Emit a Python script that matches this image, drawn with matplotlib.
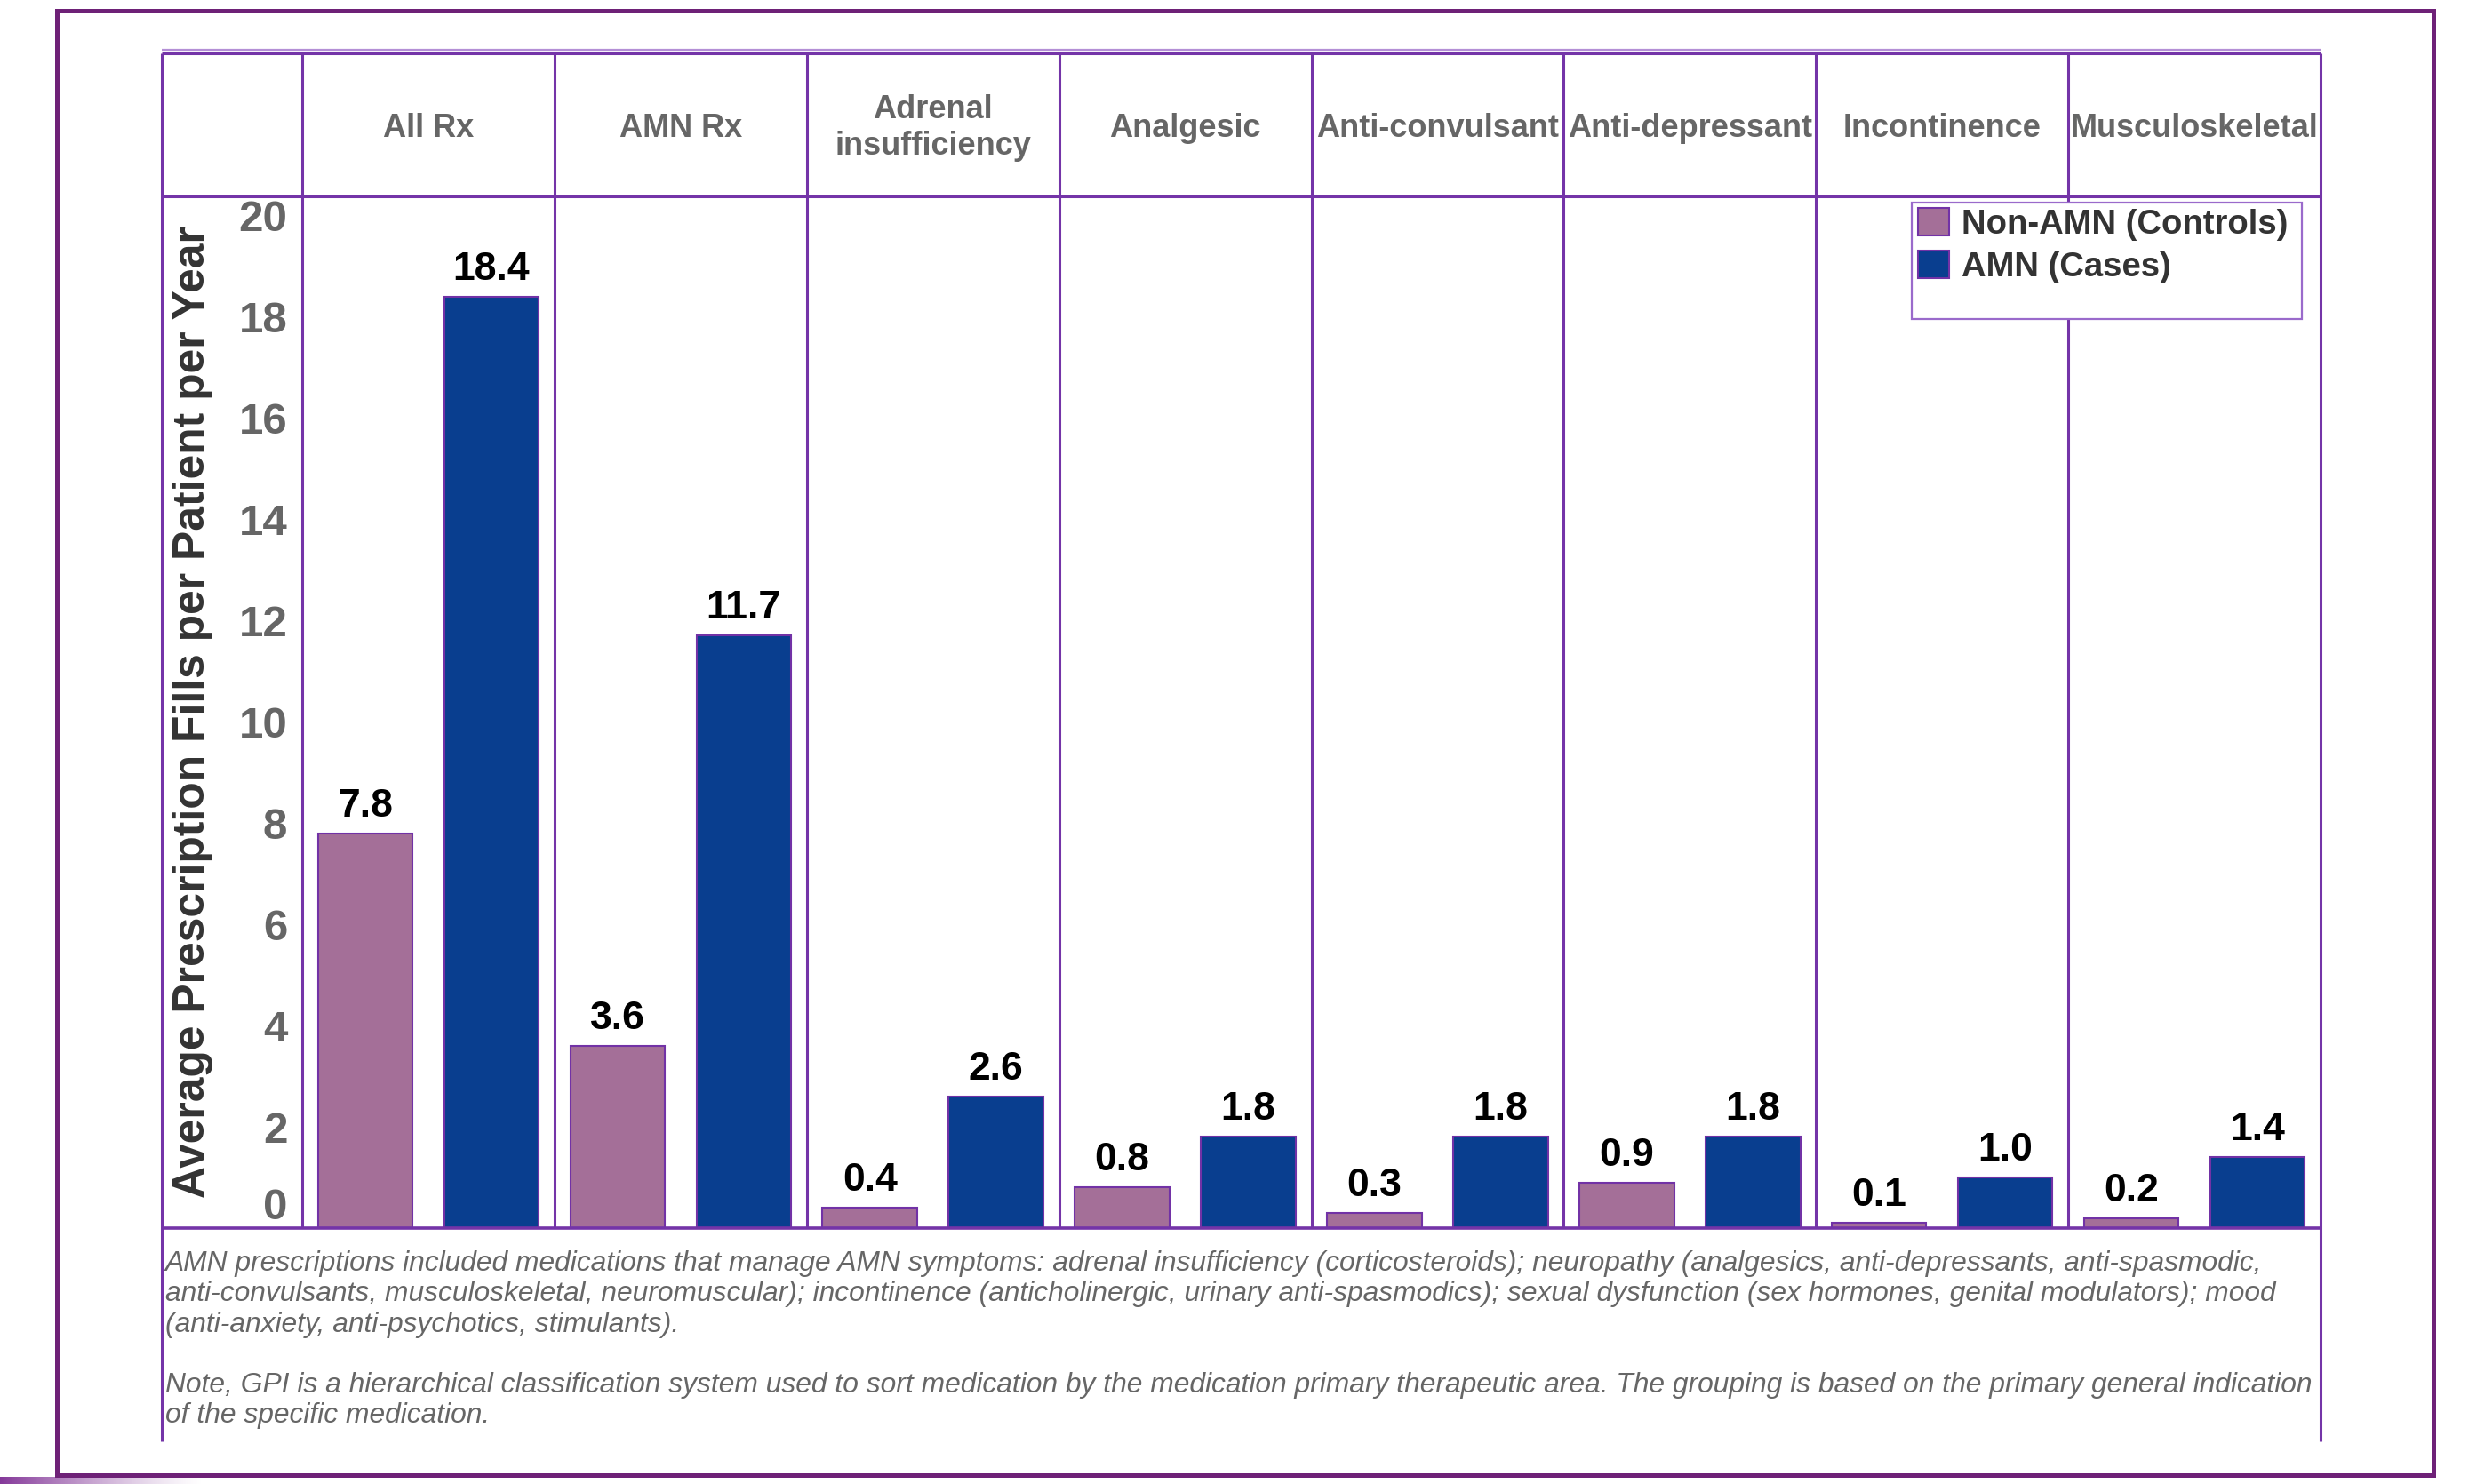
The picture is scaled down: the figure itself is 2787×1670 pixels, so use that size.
import numpy as np
import matplotlib
matplotlib.use("Agg")
import matplotlib.pyplot as plt
from matplotlib.lines import Line2D
from matplotlib.patches import Rectangle
from matplotlib.transforms import blended_transform_factory

plt.rcParams['font.family'] = ['Liberation Sans', 'DejaVu Sans']

# ---- data -------------------------------------------------------------
categories = ["All Rx", "AMN Rx", "Adrenal\ninsufficiency", "Analgesic",
              "Anti-convulsant", "Anti-depressant", "Incontinence",
              "Musculoskeletal"]
controls = [7.8, 3.6, 0.4, 0.8, 0.3, 0.9, 0.1, 0.2]
cases = [18.4, 11.7, 2.6, 1.8, 1.8, 1.8, 1.0, 1.4]
series_labels = ["Non-AMN (Controls)", "AMN (Cases)"]
y_ticks = list(range(0, 21, 2))
y_label = "Average Prescription Fills per Patient per Year"
footnote = [
    "AMN prescriptions included medications that manage AMN symptoms: adrenal insufficiency (corticosteroids); "
    "neuropathy (analgesics, anti-depressants, anti-spasmodic,",
    "anti-convulsants, musculoskeletal, neuromuscular); incontinence (anticholinergic, urinary anti-spasmodics); "
    "sexual dysfunction (sex hormones, genital modulators); mood",
    "(anti-anxiety, anti-psychotics, stimulants).",
    "",
    "Note, GPI is a hierarchical classification system used to sort medication by the medication primary "
    "therapeutic area. The grouping is based on the primary general indication",
    "of the specific medication.",
]

# ---- style ------------------------------------------------------------
C_CTRL = "#A46F98"
C_CASE = "#093E8F"
C_EDGE = "#7232A6"
C_GRID = "#7434A8"
C_FRAME = "#6E2177"

W, H, DPI = 2787, 1670, 100
fig = plt.figure(figsize=(W / DPI, H / DPI), dpi=DPI)
fig.patch.set_facecolor("white")


def fx(px):
    return px / W


def fy(py):
    return 1 - py / H


# plot area in pixel layout
PL, PR, PT, PB = 340, 2611, 221, 1382
TABLE_L, TABLE_T, NOTE_B = 182, 60, 1622

ax = fig.add_axes([fx(PL), fy(PB), fx(PR) - fx(PL), fy(PT) - fy(PB)])
ax.set_xlim(-0.5, len(categories) - 0.5)
ax.set_ylim(0, 20.38)
for s in ax.spines.values():
    s.set_visible(False)
ax.set_xticks([])
ax.set_yticks(y_ticks)
ax.set_yticklabels([str(t) for t in y_ticks])
ax.tick_params(axis="y", length=0, pad=12.0, labelsize=35.5,
               labelcolor="#666666")
for lab in ax.get_yticklabels():
    lab.set_fontweight("bold")
ax.get_yticklabels()[0].set_verticalalignment("bottom")

x = np.arange(len(categories))
bw = 0.375
bars_c = ax.bar(x - 0.25, controls, bw, color=C_CTRL, edgecolor=C_EDGE,
                linewidth=1.5, zorder=3)
bars_a = ax.bar(x + 0.25, cases, bw, color=C_CASE, edgecolor=C_EDGE,
                linewidth=1.5, zorder=3)

for xs, vals in ((x - 0.25, controls), (x + 0.25, cases)):
    for xi, v in zip(xs, vals):
        ax.annotate(f"{v:.1f}", (xi, v), xytext=(0, 13.7),
                    textcoords="offset points", ha="center", va="baseline",
                    fontsize=32, fontweight="bold", color="black", zorder=6)

# ---- table grid -------------------------------------------------------
bt = blended_transform_factory(ax.transData, ax.transAxes)
top_axes = (PB - TABLE_T) / (PB - PT)
bounds = np.arange(-0.5, len(categories) - 0.5 + 1e-9, 1.0)
ax.vlines(bounds[:-1], 0, top_axes, transform=bt, colors=C_GRID,
          linewidth=2.2, clip_on=False, zorder=1)

hdr_y = (PB - 144) / (PB - PT)
for xi, name in zip(x, categories):
    ax.text(xi, hdr_y, name, transform=bt, ha="center", va="center",
            fontsize=26, fontweight="bold", color="#666666",
            linespacing=1.25, multialignment="center", clip_on=False)


def fline(xs, ys, color=C_GRID, lw=2.2):
    fig.add_artist(Line2D([fx(v) for v in xs], [fy(v) for v in ys],
                          transform=fig.transFigure, color=color,
                          linewidth=lw, solid_capstyle="butt"))


fline([TABLE_L, PR], [56, 56], color="#B48FD6", lw=1.6)
fline([TABLE_L, PR], [TABLE_T, TABLE_T])
fline([TABLE_L, PR], [PT, PT])
fline([TABLE_L, PR], [PB, PB], lw=2.6)
fline([TABLE_L, TABLE_L], [TABLE_T, NOTE_B])
fline([PR, PR], [TABLE_T, NOTE_B])

# outer frame
fig.add_artist(Rectangle((fx(64), fy(1660)), fx(2738) - fx(64),
                         fy(12) - fy(1660), transform=fig.transFigure,
                         fill=False, edgecolor=C_FRAME, linewidth=3.6))

# decorative fade below the frame
deco = fig.add_axes([0, 0, fx(230), 8 / H])
grad = np.zeros((1, 256, 4))
grad[..., 0], grad[..., 1], grad[..., 2] = 0.52, 0.22, 0.60
grad[0, :, 3] = np.linspace(1, 0, 256) ** 1.3
deco.imshow(grad, aspect="auto", extent=(0, 1, 0, 1))
deco.axis("off")

# ---- legend -----------------------------------------------------------
ax.add_patch(Rectangle((fx(2151), fy(359)), fx(2590) - fx(2151),
                       fy(228) - fy(359), transform=fig.transFigure,
                       facecolor="white", edgecolor="#9A6ACB",
                       linewidth=1.6, clip_on=False, zorder=4))
leg = ax.legend([bars_c, bars_a], series_labels, loc="upper left",
                bbox_to_anchor=(fx(2158), fy(234)),
                bbox_transform=fig.transFigure, frameon=False,
                borderpad=0, borderaxespad=0, handlelength=0.91,
                handleheight=0.88, handletextpad=0.36, labelspacing=0.29,
                prop=dict(weight="bold", size=27.5))
leg.set_zorder(5)
for t in leg.get_texts():
    t.set_color("#333333")

# ---- axis title and notes --------------------------------------------
fig.text(fx(217), fy(801), y_label, rotation=90, ha="center", va="center",
         fontsize=35.8, fontweight="bold", color="#333333")

for k, line in enumerate(footnote):
    if line:
        fig.text(fx(186), fy(1430 + 34.3 * k), line, ha="left",
                 va="baseline", fontsize=22.9, fontstyle="italic",
                 color="#666666")

fig.savefig("out.png", dpi=DPI, facecolor="white")
